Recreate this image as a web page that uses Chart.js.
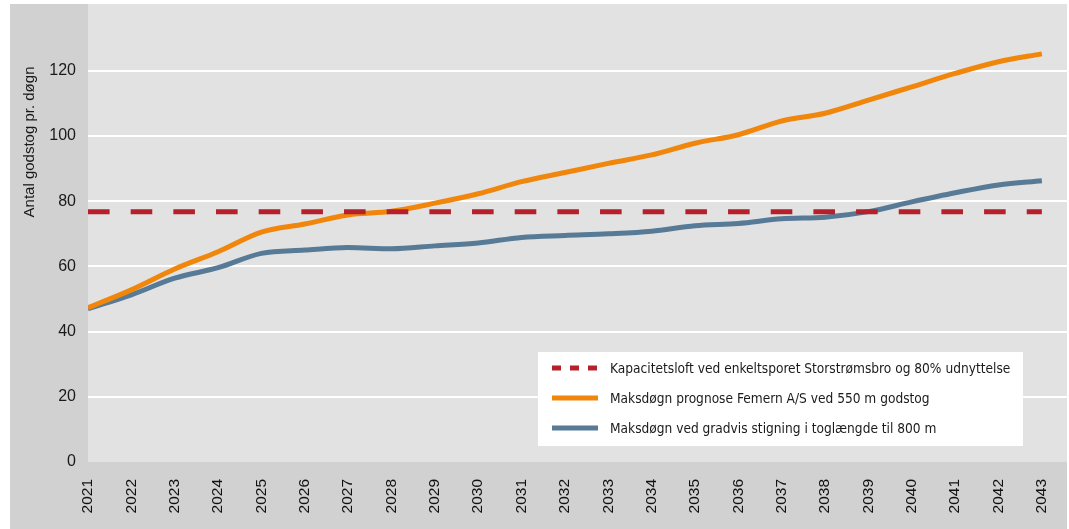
<!DOCTYPE html>
<html>
<head>
<meta charset="utf-8">
<script src="https://cdn.jsdelivr.net/npm/chart.js@4.4.1/dist/chart.umd.min.js"></script>
<style>
  html, body { margin: 0; padding: 0; background: #ffffff; }
  #wrap { position: absolute; left: 10px; top: 4px; width: 1057px; height: 525px; background: #d1d1d1; }
  canvas { display: block; }
</style>
</head>
<body>
<div id="wrap"><canvas id="c" width="1057" height="525"></canvas></div>
<script>
const years = [2021, 2022, 2023, 2024, 2025, 2026, 2027, 2028, 2029, 2030, 2031, 2032,
               2033, 2034, 2035, 2036, 2037, 2038, 2039, 2040, 2041, 2042, 2043];
const capacity = [76.8, 76.8, 76.8, 76.8, 76.8, 76.8, 76.8, 76.8, 76.8, 76.8, 76.8, 76.8,
                  76.8, 76.8, 76.8, 76.8, 76.8, 76.8, 76.8, 76.8, 76.8, 76.8, 76.8];
const femern = [47.3, 52.8, 59.2, 64.5, 70.5, 73.0, 75.8, 76.9, 79.4, 82.3, 86.0, 88.8,
                91.6, 94.2, 97.8, 100.4, 104.6, 107.0, 111.0, 115.1, 119.2, 122.8, 125.2];
const gradvis = [47.0, 51.3, 56.4, 59.6, 64.0, 65.0, 65.8, 65.4, 66.3, 67.2, 68.9, 69.5,
                 70.0, 70.8, 72.5, 73.2, 74.6, 75.1, 76.8, 79.8, 82.6, 85.0, 86.3];
const seriesLabels = [
  "Kapacitetsloft ved enkeltsporet Storstrømsbro og 80% udnyttelse",
  "Maksdøgn prognose Femern A/S ved 550 m godstog",
  "Maksdøgn ved gradvis stigning i toglængde til 800 m"
];
const yTicks = [0, 20, 40, 60, 80, 100, 120];
const yTitle = "Antal godstog pr. døgn";

const toXY = arr => arr.map((v, i) => ({ x: years[i], y: v }));
const colors = ["#b5202a", "#f0860b", "#577a96"];

const bgPlugin = {
  id: 'bg',
  beforeDraw(chart) {
    const { ctx, chartArea: a } = chart;
    ctx.save();
    ctx.fillStyle = '#e2e2e2';
    ctx.fillRect(a.left, a.top, a.right - a.left, a.bottom - a.top);
    ctx.restore();
  }
};

const decoPlugin = {
  id: 'deco',
  afterDraw(chart) {
    const ctx = chart.ctx;
    ctx.save();
    // y axis title
    ctx.translate(20, 138);
    ctx.rotate(-Math.PI / 2);
    ctx.fillStyle = '#1a1a1a';
    ctx.font = '15px "Liberation Sans", Arial, sans-serif';
    ctx.textAlign = 'center';
    ctx.textBaseline = 'middle';
    ctx.fillText(yTitle, 0, 0);
    ctx.restore();

    // legend
    ctx.save();
    ctx.fillStyle = '#ffffff';
    ctx.fillRect(528, 348, 485, 94);
    chart.data.datasets.forEach((ds, i) => {
      const y = 364 + i * 30;
      ctx.beginPath();
      ctx.strokeStyle = ds.borderColor;
      ctx.lineWidth = 5;
      ctx.setLineDash(i === 0 ? [9, 9] : []);
      ctx.moveTo(542, y);
      ctx.lineTo(588, y);
      ctx.stroke();
      ctx.setLineDash([]);
      ctx.fillStyle = '#1a1a1a';
      ctx.font = '13.6px "Liberation Sans Narrow", "Arial Narrow", "DejaVu Sans Condensed", sans-serif';
      ctx.textAlign = 'left';
      ctx.textBaseline = 'middle';
      ctx.fillText(ds.label, 600, y + 1);
    });
    ctx.restore();
  }
};

new Chart(document.getElementById('c'), {
  type: 'line',
  data: {
    datasets: [
      { label: seriesLabels[0], data: toXY(capacity), borderColor: colors[0], borderWidth: 5,
        borderDash: [21.6, 21.07], borderCapStyle: 'butt', pointRadius: 0, tension: 0 },
      { label: seriesLabels[1], data: toXY(femern), borderColor: colors[1], borderWidth: 5,
        pointRadius: 0, tension: 0.4, cubicInterpolationMode: 'monotone' },
      { label: seriesLabels[2], data: toXY(gradvis), borderColor: colors[2], borderWidth: 5,
        pointRadius: 0, tension: 0.4, cubicInterpolationMode: 'monotone' }
    ]
  },
  options: {
    responsive: false,
    animation: false,
    layout: { padding: 0 },
    plugins: { legend: { display: false }, tooltip: { enabled: false }, title: { display: false } },
    scales: {
      x: {
        type: 'linear',
        min: years[0],
        max: 2043.58,
        afterBuildTicks(scale) {
          scale.ticks = years.map(v => ({ value: v }));
        },
        afterFit(scale) {
          scale.height = 67;
          scale.paddingLeft = 0; scale.paddingRight = 0;
          scale.paddingTop = 0; scale.paddingBottom = 0;
        },
        grid: { display: false, drawTicks: false },
        border: { display: false },
        ticks: {
          autoSkip: false, minRotation: 90, maxRotation: 90, padding: 17,
          color: '#111', font: { family: '"Liberation Sans", Arial, sans-serif', size: 15.5 },
          callback: v => String(v)
        }
      },
      y: {
        min: 0,
        max: 140.5,
        afterBuildTicks(scale) {
          scale.ticks = yTicks.map(v => ({ value: v }));
        },
        afterFit(scale) {
          scale.width = 78;
          scale.paddingLeft = 0; scale.paddingRight = 0;
          scale.paddingTop = 0; scale.paddingBottom = 0;
        },
        grid: {
          drawTicks: false, lineWidth: 2,
          color: ctx => (ctx.tick && ctx.tick.value === 0) ? 'rgba(0,0,0,0)' : '#ffffff'
        },
        border: { display: false },
        ticks: {
          padding: 12, color: '#1a1a1a',
          font: { family: '"Liberation Sans", Arial, sans-serif', size: 16 }
        }
      }
    }
  },
  plugins: [bgPlugin, decoPlugin]
});
</script>
</body>
</html>
